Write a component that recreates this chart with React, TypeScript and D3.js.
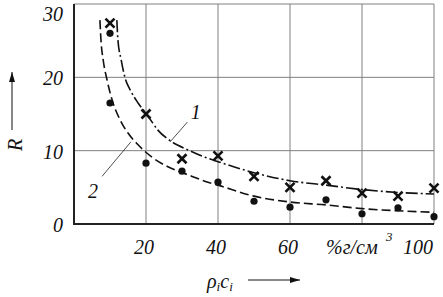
import React from "react";
import * as d3 from "d3";

// ---- data ----
const xTicks = [20, 40, 60, 100];
const xTickLabels = ["20", "40", "60", "100"];
const yTicks = [0, 10, 20, 30];
const yTickLabels = ["0", "10", "20", "30"];
const gridX = [20, 40, 60, 80, 100];
const gridY = [10, 20, 30];

// series 1 (crosses) and its fitted curve (dash-dot)
const crossX = [10, 20, 30, 40, 50, 60, 70, 80, 90, 100];
const crossY = [27.4, 15.0, 8.9, 9.3, 6.5, 5.0, 5.9, 4.2, 3.8, 4.9];
const curve1X = [11.9, 12.2, 13.1, 14.2, 15.6, 17.8, 20.3, 23.3, 27.2, 31.7, 36.4, 40, 50, 60, 70, 80, 90, 100];
const curve1Y = [27.8, 25.1, 22.4, 19.9, 18.3, 16.5, 14.9, 12.8, 11.2, 10.1, 9.1, 8.5, 7.0, 5.9, 5.3, 4.7, 4.3, 4.1];

// series 2 (dots) and its fitted curve (dashed)
const dotX = [10, 10, 20, 30, 40, 50, 60, 70, 80, 90, 100];
const dotY = [26.0, 16.5, 8.3, 7.2, 5.7, 3.1, 2.3, 3.3, 1.4, 2.2, 1.0];
const curve2X = [7.2, 7.5, 8.1, 9.2, 10.6, 12.8, 15.0, 17.8, 21.7, 26.1, 31.7, 37.2, 40, 50, 60, 70, 80, 90, 100];
const curve2Y = [27.8, 25.0, 22.4, 19.6, 16.9, 14.2, 12.4, 10.8, 9.1, 7.8, 6.7, 5.7, 5.3, 3.8, 3.0, 2.6, 2.1, 1.8, 1.6];

// curve labels in data units
const label1 = { text: "1", x: 33.8, y: 15.3, lx0: 31.5, ly0: 13.9, lx1: 26.7, ly1: 11.2 };
const label2 = { text: "2", x: 5.3, y: 4.5, lx0: 7.8, ly0: 6.5, lx1: 15.8, ly1: 11.2 };

const W = 443;
const H = 297;
const left = 74;
const right = 434;
const top = 4;
const bottom = 224;
const FONT = "Liberation Serif, Times New Roman, serif";

export default function App() {
  const x = d3.scaleLinear().domain([0, 100]).range([left, right]);
  const y = d3.scaleLinear().domain([0, 30]).range([bottom, top]);
  const line = d3
    .line<[number, number]>()
    .x((d) => x(d[0]))
    .y((d) => y(d[1]))
    .curve(d3.curveMonotoneX);
  const c1 = line(curve1X.map((v, i) => [v, curve1Y[i]]) as [number, number][]) || "";
  const c2 = line(curve2X.map((v, i) => [v, curve2Y[i]]) as [number, number][]) || "";

  const grid = "#808080";
  const ts = { fontFamily: FONT, fontStyle: "italic", fontSize: "20px", fill: "#111" } as React.CSSProperties;
  const sub = { fontSize: "13px" } as React.CSSProperties;

  return (
    <svg
      width={W}
      height={H}
      style={{ position: "absolute", left: 0, top: 0, background: "#fff" }}
    >
      <defs>
        <marker id="arr" viewBox="0 0 10 6" refX="10" refY="3" markerWidth="10" markerHeight="6" orient="auto" markerUnits="userSpaceOnUse">
          <path d="M0,0 L10,3 L0,6 Z" fill="#111" />
        </marker>
      </defs>
      {/* grid */}
      {gridX.map((g) => (
        <line key={"gx" + g} x1={x(g)} x2={x(g)} y1={y(0)} y2={y(30)} stroke={grid} strokeWidth={1} />
      ))}
      {gridY.map((g) => (
        <line key={"gy" + g} x1={x(0)} x2={x(100)} y1={y(g)} y2={y(g)} stroke={grid} strokeWidth={1} />
      ))}
      {/* axes */}
      <line x1={x(0)} x2={x(0)} y1={y(0) + 1} y2={y(30)} stroke="#222" strokeWidth={2} />
      <line x1={x(0) - 1} x2={x(100)} y1={y(0)} y2={y(0)} stroke="#222" strokeWidth={2.2} />

      {/* curves */}
      <path d={c1} fill="none" stroke="#111" strokeWidth={1.6} strokeDasharray="12,3,2,3" />
      <path d={c2} fill="none" stroke="#111" strokeWidth={1.6} strokeDasharray="9,4" />

      {/* points */}
      {dotX.map((v, i) => (
        <circle key={"d" + i} cx={x(v)} cy={y(dotY[i])} r={3.6} fill="#111" />
      ))}
      {crossX.map((v, i) => {
        const cx = x(v);
        const cy = y(crossY[i]);
        const s = 4.5;
        return (
          <g key={"c" + i} stroke="#111" strokeWidth={2.6}>
            <line x1={cx - s} y1={cy - s} x2={cx + s} y2={cy + s} />
            <line x1={cx - s} y1={cy + s} x2={cx + s} y2={cy - s} />
          </g>
        );
      })}

      {/* curve labels */}
      {[label1, label2].map((l) => (
        <g key={l.text}>
          <line x1={x(l.lx0)} y1={y(l.ly0)} x2={x(l.lx1)} y2={y(l.ly1)} stroke="#222" strokeWidth={0.8} />
          <text x={x(l.x)} y={y(l.y)} textAnchor="middle" dominantBaseline="central" style={ts}>
            {l.text}
          </text>
        </g>
      ))}

      {/* y tick labels */}
      {yTicks.map((t, i) => (
        <text
          key={"yt" + t}
          x={63}
          y={t === 30 ? y(t) + 10 : y(t) + 1}
          textAnchor="end"
          dominantBaseline="central"
          style={ts}
        >
          {yTickLabels[i]}
        </text>
      ))}
      {/* x tick labels */}
      {xTicks.map((t, i) => (
        <text
          key={"xt" + t}
          x={t === 100 ? x(t) - 16 : x(t) - 2}
          y={y(0) + 23}
          textAnchor="middle"
          dominantBaseline="central"
          style={ts}
        >
          {xTickLabels[i]}
        </text>
      ))}
      {/* unit label in place of 80 */}
      <text x={x(80) - 36} y={y(0) + 23} dominantBaseline="central" style={ts}>
        %г/см
      </text>
      <text x={x(80) + 24} y={y(0) + 12} dominantBaseline="central" style={{ ...ts, fontSize: "13px" }}>
        3
      </text>

      {/* y axis title */}
      <text
        transform={`translate(15,${145}) rotate(-90)`}
        textAnchor="middle"
        dominantBaseline="central"
        style={ts}
      >
        R
      </text>
      <line x1={12} x2={12} y1={130} y2={72} stroke="#111" strokeWidth={1} markerEnd="url(#arr)" />

      {/* x axis title */}
      <text x={207} y={281} dominantBaseline="central" style={ts}>
        ρ<tspan style={sub} dy={5}>i</tspan>
        <tspan dy={-5}>c</tspan>
        <tspan style={sub} dy={5}>i</tspan>
      </text>
      <line x1={248} x2={300} y1={280} y2={280} stroke="#111" strokeWidth={1} markerEnd="url(#arr)" />
    </svg>
  );
}
